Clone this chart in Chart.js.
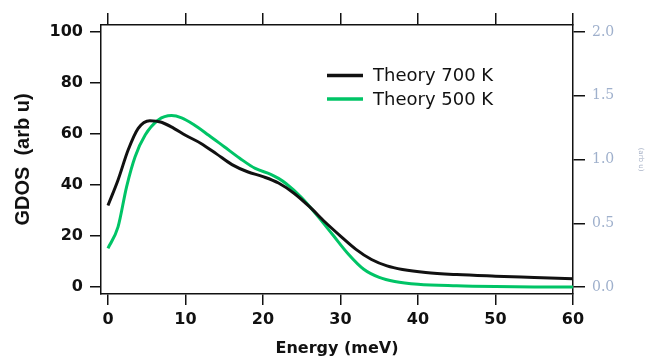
<!DOCTYPE html>
<html>
<head>
<meta charset="utf-8">
<script src="https://cdn.jsdelivr.net/npm/chart.js@4.4.0/dist/chart.umd.min.js"></script>
<style>
    html, body { margin: 0; padding: 0; background: #fff; }
    #wrap { width: 659px; height: 361px; }
</style>
</head>
<body>
<div id="wrap"><canvas id="chartGdos" width="659" height="361"></canvas></div>
<script>
// datos
const energia700 = [0, 1.3, 2.6, 3.9, 5.4, 6.9, 8.5, 10, 12, 14, 16, 18, 20, 22, 24, 26, 28, 30, 32, 34, 36, 38, 41, 45, 50, 55, 60];
const gdos700 = [32, 42, 53.7, 62.2, 65.2, 64.6, 62.2, 59.5, 56.3, 52.2, 48, 45.2, 43.3, 40.8, 36.8, 31.5, 25.5, 20, 14.8, 10.8, 8.3, 6.9, 5.7, 4.9, 4.3, 3.8, 3.3];

const energia500 = [0, 1.3, 2.4, 3.5, 4.8, 6.5, 8.2, 9.5, 11, 13, 15, 17, 19, 21, 22, 23, 25, 27, 29, 31, 33, 35, 37, 40, 45, 50, 55, 60];
const gdos500 = [15.2, 23.6, 39.3, 51.1, 59.6, 65.5, 67.2, 66.3, 63.8, 59.5, 55, 50.5, 46.5, 44.2, 42.6, 40.5, 35, 28, 20.5, 13, 7, 3.8, 2.2, 1.1, 0.5, 0.2, 0.05, 0];

const ticksEnergia = [0, 10, 20, 30, 40, 50, 60];
const ticksGdos = [0, 20, 40, 60, 80, 100];
const ticksDerecha = [0, 0.5, 1.0, 1.5, 2.0];

const series = [
    { label: 'Theory 700 K', x: energia700, y: gdos700, color: '#111111' },
    { label: 'Theory 500 K', x: energia500, y: gdos500, color: '#00c466' }
];

const fuenteTicks = { family: 'DejaVu Sans', size: 16, weight: 'bold' };
const colorEje = '#111';

const fijarTicks = (valores) => (scale) => {
    scale.ticks = valores.map(v => ({ value: v }));
};

// leyenda dibujada dentro del area
const leyenda = {
    id: 'leyenda',
    afterDatasetsDraw(chart) {
        const ctx = chart.ctx;
        ctx.save();
        ctx.font = '18px "DejaVu Sans"';
        ctx.textBaseline = 'middle';
        chart.data.datasets.forEach((ds, i) => {
            const y = 75.5 + i * 23.5;
            ctx.strokeStyle = ds.borderColor;
            ctx.lineWidth = 3.5;
            ctx.beginPath();
            ctx.moveTo(327, y);
            ctx.lineTo(363, y);
            ctx.stroke();
            ctx.fillStyle = '#111';
            ctx.fillText(ds.label, 373, y + 1);
        });
        ctx.restore();
    }
};

const ctx = document.getElementById('chartGdos').getContext('2d');
const chartGdos = new Chart(ctx, {
    type: 'line',
    data: {
        datasets: series.map(s => ({
            label: s.label,
            data: s.x.map((e, i) => ({ x: e, y: s.y[i] })),
            borderColor: s.color,
            backgroundColor: s.color,
            borderWidth: 3,
            pointRadius: 0,
            cubicInterpolationMode: 'monotone',
            fill: false,
            xAxisID: 'x',
            yAxisID: 'y'
        }))
    },
    options: {
        responsive: false,
        animation: false,
        maintainAspectRatio: false,
        layout: { padding: 0 },
        plugins: {
            legend: { display: false },
            tooltip: { enabled: false }
        },
        scales: {
            x: {
                type: 'linear',
                position: 'bottom',
                min: -0.9,
                max: 60,
                afterBuildTicks: fijarTicks(ticksEnergia),
                afterFit: (scale) => { scale.height = 67; },
                border: { display: true, color: colorEje, width: 1.5 },
                grid: { drawOnChartArea: false, drawTicks: true, tickLength: 11, color: colorEje, lineWidth: 1.5 },
                ticks: { color: colorEje, font: fuenteTicks, padding: 5, maxRotation: 0 },
                title: {
                    display: true,
                    text: 'Energy (meV)',
                    color: colorEje,
                    font: { family: 'DejaVu Sans', size: 16, weight: 'bold' },
                    padding: { top: 0, bottom: 3 }
                }
            },
            x2: {
                type: 'linear',
                position: 'top',
                min: -0.9,
                max: 60,
                afterBuildTicks: fijarTicks(ticksEnergia),
                afterFit: (scale) => { scale.height = 25; },
                border: { display: true, color: colorEje, width: 1.5 },
                grid: { drawOnChartArea: false, drawTicks: true, tickLength: 12, color: colorEje, lineWidth: 1.5 },
                ticks: { display: false }
            },
            y: {
                type: 'linear',
                position: 'left',
                min: -2.7,
                max: 102.7,
                afterBuildTicks: fijarTicks(ticksGdos),
                afterFit: (scale) => { scale.width = 101; },
                border: { display: true, color: colorEje, width: 1.5 },
                grid: { drawOnChartArea: false, drawTicks: true, tickLength: 11, color: colorEje, lineWidth: 1.5 },
                ticks: { color: colorEje, font: fuenteTicks, padding: 7 },
                title: {
                    display: true,
                    text: 'GDOS  (arb u)',
                    color: colorEje,
                    font: { family: 'Liberation Sans', size: 20, weight: 'bold' },
                    padding: { top: 11, bottom: 0 }
                }
            },
            y2: {
                type: 'linear',
                position: 'right',
                min: -0.054,
                max: 2.054,
                afterBuildTicks: fijarTicks(ticksDerecha),
                afterFit: (scale) => { scale.width = 86; },
                border: { display: true, color: colorEje, width: 1.5 },
                grid: { drawOnChartArea: false, drawTicks: true, tickLength: 12, color: colorEje, lineWidth: 1.5 },
                ticks: {
                    color: '#9fb0cc',
                    font: { family: 'DejaVu Serif', size: 14 },
                    padding: 7,
                    callback: (v) => Number(v).toFixed(1)
                },
                title: {
                    display: true,
                    text: '(arb u)',
                    color: '#aab4c8',
                    font: { family: 'DejaVu Sans', size: 7 },
                    padding: { top: 14, bottom: 0 }
                }
            }
        }
    },
    plugins: [leyenda]
});
</script>
</body>
</html>
